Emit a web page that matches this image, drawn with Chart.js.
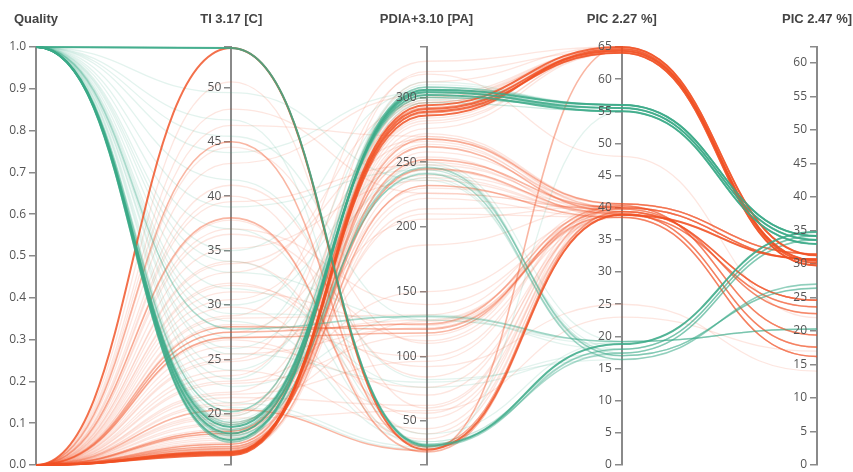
<!DOCTYPE html>
<html><head><meta charset="utf-8">
<script src="https://cdn.jsdelivr.net/npm/chart.js@4.4.1/dist/chart.umd.min.js"></script>
<style>html,body{margin:0;padding:0;background:#fff;}canvas{display:block;}</style>
</head><body>
<canvas id="c" width="853" height="472"></canvas>
<script>
// Axes (categories) and their value ranges
const axisNames = ['Quality', 'TI 3.17 [C]', 'PDIA+3.10 [PA]', 'PIC 2.27 %]', 'PIC 2.47 %]'];
const axisMin = [0, 15.3, 16, 0, 0];
const axisMax = [1, 53.7, 339, 65, 62.4];
const tickStep = [0.1, 5, 50, 5, 5];
const tickDecimals = [1, 0, 0, 0, 0];

// Each run: [Quality, TI, PDIA, PIC 2.27, PIC 2.47]
const keyRuns = [
  [0, 53.6, 28, 38.9, 30.7],
  [0, 16.3, 294, 65.0, 31.3],
  [0, 16.4, 291, 64.4, 30.5],
  [0, 16.2, 289, 64.1, 29.8],
  [0, 16.5, 286, 64.7, 30.2],
  [1, 53.6, 31, 18.8, 34.8],
  [1, 17.6, 306, 56.0, 34.2],
  [1, 18.2, 304, 55.5, 33.6],
  [1, 18.8, 302, 55.0, 33.0]
];
const midRuns = [
  [0, 16.6, 268, 40.6, 31.5],
  [0, 16.8, 252, 40.0, 30.7],
  [0, 17.0, 245, 39.1, 17.6],
  [0, 16.5, 232, 38.5, 16.2],
  [0, 17.2, 262, 39.4, 24.6],
  [0, 27.5, 125, 40.3, 19.4],
  [0, 28.0, 121, 38.9, 23.6],
  [0, 27.0, 118, 39.8, 22.6],
  [0, 18.2, 292, 64.4, 30.5],
  [0, 18.4, 288, 64.1, 29.8],
  [0, 20.4, 27, 65.0, 31.3],
  [0, 38.0, 26, 38.9, 30.7],
  [0, 45.0, 30, 39.4, 24.6],
  [1, 53.6, 30, 18.0, 34.2],
  [1, 53.6, 32, 17.4, 33.6],
  [1, 27.8, 131, 19.2, 20.3],
  [1, 18.0, 246, 17.0, 26.4],
  [1, 19.2, 241, 16.4, 27.0],
  [1, 17.4, 308, 56.0, 34.2],
  [1, 19.0, 300, 55.5, 33.6],
  [1, 18.5, 305, 55.0, 33.0],
  [1, 20.2, 306, 56.0, 34.2]
];
const faintRuns = [
  [0, 16.2, 296, 65.0, 31.3], [0, 16.4, 280, 64.4, 30.5], [0, 16.6, 258, 40.6, 31.5],
  [0, 16.3, 300, 64.7, 30.2], [0, 16.8, 250, 39.4, 24.6], [0, 17.0, 238, 39.1, 17.6],
  [0, 16.4, 222, 38.5, 16.2], [0, 17.4, 272, 40.6, 31.5], [0, 17.6, 244, 38.9, 23.6],
  [0, 18.0, 282, 64.1, 29.8], [0, 17.8, 214, 40.3, 19.4], [0, 18.2, 264, 40.0, 30.7],
  [0, 16.9, 312, 65.0, 31.3], [0, 18.4, 298, 64.7, 30.2], [0, 19.2, 230, 39.8, 22.6],
  [0, 20.0, 320, 64.4, 30.5], [0, 20.8, 127, 38.9, 23.6], [0, 21.5, 62, 40.0, 30.7],
  [0, 22.0, 254, 38.5, 16.2], [0, 22.8, 116, 39.8, 22.6], [0, 23.5, 290, 64.1, 29.8],
  [0, 24.0, 44, 40.6, 31.5], [0, 24.8, 206, 40.3, 19.4], [0, 25.5, 122, 39.4, 24.6],
  [0, 26.2, 76, 39.1, 17.6], [0, 27.0, 128, 38.9, 23.6], [0, 27.5, 240, 40.0, 30.7],
  [0, 28.2, 100, 40.3, 19.4], [0, 29.0, 328, 65.0, 31.3], [0, 29.8, 36, 40.0, 30.7],
  [0, 30.5, 266, 39.4, 24.6], [0, 31.2, 124, 38.5, 16.2], [0, 32.0, 70, 40.6, 31.5],
  [0, 33.0, 296, 64.4, 30.5], [0, 34.0, 52, 38.9, 23.6], [0, 35.2, 236, 39.1, 17.6],
  [0, 36.5, 112, 40.6, 31.5], [0, 37.8, 30, 39.4, 24.6], [0, 39.5, 248, 40.0, 30.7],
  [0, 41.0, 84, 39.1, 17.6], [0, 43.0, 302, 64.7, 30.2], [0, 25.0, 318, 48.0, 22.0],
  [0, 31.8, 92, 25.0, 14.0], [0, 19.6, 58, 23.0, 17.0], [0, 48.0, 226, 39.8, 22.6],
  [0, 50.5, 60, 40.0, 30.7], [0, 21.0, 186, 40.3, 19.4], [0, 23.0, 150, 39.4, 24.6],
  [0, 19.0, 286, 64.4, 30.5], [0, 17.2, 276, 64.1, 29.8],
  [0, 16.3, 292, 64.7, 30.2], [0, 16.5, 296, 64.4, 30.5], [0, 16.2, 284, 65.0, 31.3],
  [0, 16.7, 270, 40.0, 30.7], [0, 17.3, 226, 39.8, 22.6], [0, 18.6, 210, 38.5, 16.2],
  [0, 19.8, 300, 64.1, 29.8], [0, 21.8, 96, 40.3, 19.4], [0, 26.8, 56, 38.9, 23.6],
  [0, 28.8, 132, 40.6, 31.5], [0, 33.8, 268, 40.0, 30.7], [0, 37.0, 140, 39.1, 17.6],
  [0, 40.0, 40, 39.4, 24.6], [0, 44.5, 110, 38.5, 16.2], [0, 46.5, 270, 40.6, 31.5],
  [1, 17.4, 308, 56.0, 34.2], [1, 18.6, 300, 55.5, 33.6], [1, 19.0, 310, 56.0, 34.2],
  [1, 17.9, 296, 55.0, 33.0], [1, 19.4, 248, 17.0, 26.4], [1, 18.3, 242, 18.0, 34.2],
  [1, 20.2, 305, 55.5, 33.6], [1, 21.0, 30, 18.8, 34.8], [1, 22.5, 132, 19.2, 20.3],
  [1, 24.0, 238, 16.4, 27.0], [1, 25.5, 80, 17.4, 33.6], [1, 27.0, 302, 55.0, 33.0],
  [1, 28.5, 34, 18.0, 34.2], [1, 30.0, 250, 19.2, 20.3], [1, 31.5, 76, 17.0, 26.4],
  [1, 33.0, 128, 18.8, 34.8], [1, 35.0, 306, 55.5, 33.6], [1, 37.0, 40, 19.2, 20.3],
  [1, 39.0, 244, 17.4, 33.6], [1, 41.5, 82, 16.4, 27.0], [1, 44.0, 304, 56.0, 34.2],
  [1, 47.0, 32, 18.8, 34.8], [1, 49.5, 236, 17.0, 26.4], [1, 20.6, 28, 55.0, 33.0],
  [1, 18.8, 312, 55.5, 33.6], [1, 17.7, 300, 56.0, 34.2], [1, 23.2, 296, 55.0, 33.0],
  [1, 29.2, 130, 18.0, 34.2], [1, 17.8, 304, 55.5, 33.6], [1, 18.4, 308, 55.0, 33.0],
  [1, 19.8, 298, 56.0, 34.2], [1, 26.0, 244, 17.4, 33.6], [1, 34.0, 34, 18.0, 34.2],
  [1, 45.5, 128, 19.2, 20.3]
];

const GREEN = [58, 170, 135], RED = [240, 80, 35];
const rgba = (c, a) => `rgba(${c[0]},${c[1]},${c[2]},${a})`;
const toNorm = run => run.map((v, i) => ({x: i, y: (v - axisMin[i]) / (axisMax[i] - axisMin[i])}));

// drawing order: faint red, faint green, mid red, mid green, key red, key green
const tiers = [
  {runs: faintRuns, alpha: 0.14, width: 1.3},
  {runs: midRuns, alpha: 0.42, width: 1.6},
  {runs: keyRuns, alpha: 0.82, width: 2}
];
const ordered = [];
tiers.forEach(t => {
  [0, 1].forEach(q => t.runs.filter(r => r[0] === q).forEach(run => {
    const col = q === 1 ? GREEN : RED;
    ordered.push({data: toNorm(run), borderColor: rgba(col, t.alpha), borderWidth: t.width,
      pointRadius: 0, pointHoverRadius: 0, tension: 0.4, clip: false, fill: false});
  }));
});
const datasets = ordered.reverse(); // Chart.js paints the first dataset last

const isStep = (v, i) => Math.abs(v / tickStep[i] - Math.round(v / tickStep[i])) < 1e-6;

const scales = {
  x: {type: 'linear', min: 0, max: 4, display: false},
  y: {type: 'linear', min: 0, max: 1, display: false}
};
axisNames.forEach((name, i) => {
  scales['a' + i] = {
    type: 'linear', axis: 'y', position: {x: i}, min: axisMin[i], max: axisMax[i],
    grid: {drawOnChartArea: false, tickLength: 6, color: '#8a8a8a', lineWidth: 1.5},
    border: {display: true, color: '#8a8a8a', width: 2},
    ticks: {display: false, stepSize: tickStep[i], autoSkip: false, maxTicksLimit: 40, includeBounds: true}
  };
});

// horizontal tangents at every axis (bump curves)
const bumpPlugin = {
  id: 'bump',
  beforeDatasetDraw(chart, args) {
    const meta = args.meta;
    meta.dataset.updateControlPoints(chart.chartArea, meta.iScale.axis);
    const pts = meta.data;
    for (let k = 0; k < pts.length; k++) {
      const p = pts[k], prev = pts[k - 1], next = pts[k + 1];
      if (prev) { p.cp1x = (prev.x + p.x) / 2; p.cp1y = p.y; }
      if (next) { p.cp2x = (p.x + next.x) / 2; p.cp2y = p.y; }
    }
  }
};
// axis titles and tick labels (to the left of each positioned axis)
const textPlugin = {
  id: 'axisText',
  afterDraw(chart) {
    const ctx = chart.ctx, xs = chart.scales.x;
    ctx.save();
    ctx.font = 'bold 13px "Liberation Sans"';
    ctx.fillStyle = '#444';
    ctx.textAlign = 'center';
    ctx.textBaseline = 'middle';
    axisNames.forEach((n, i) => ctx.fillText(n, xs.getPixelForValue(i), 19));
    ctx.font = '12px "Open Sans"';
    ctx.fillStyle = '#555';
    ctx.textAlign = 'right';
    axisNames.forEach((n, i) => {
      const sc = chart.scales['a' + i];
      const ax = xs.getPixelForValue(i);
      sc.ticks.forEach(t => {
        if (!isStep(t.value, i)) return;
        ctx.fillText(Number(t.value).toFixed(tickDecimals[i]), ax - 10, sc.getPixelForValue(t.value));
      });
    });
    ctx.restore();
  }
};

new Chart(document.getElementById('c'), {
  type: 'line',
  data: {datasets},
  options: {
    responsive: false, animation: false, devicePixelRatio: 1,
    parsing: false, normalized: true,
    layout: {padding: {left: 36, right: 36, top: 47, bottom: 7}},
    plugins: {legend: {display: false}, tooltip: {enabled: false}},
    events: [],
    scales
  },
  plugins: [bumpPlugin, textPlugin]
});
</script>
</body></html>
